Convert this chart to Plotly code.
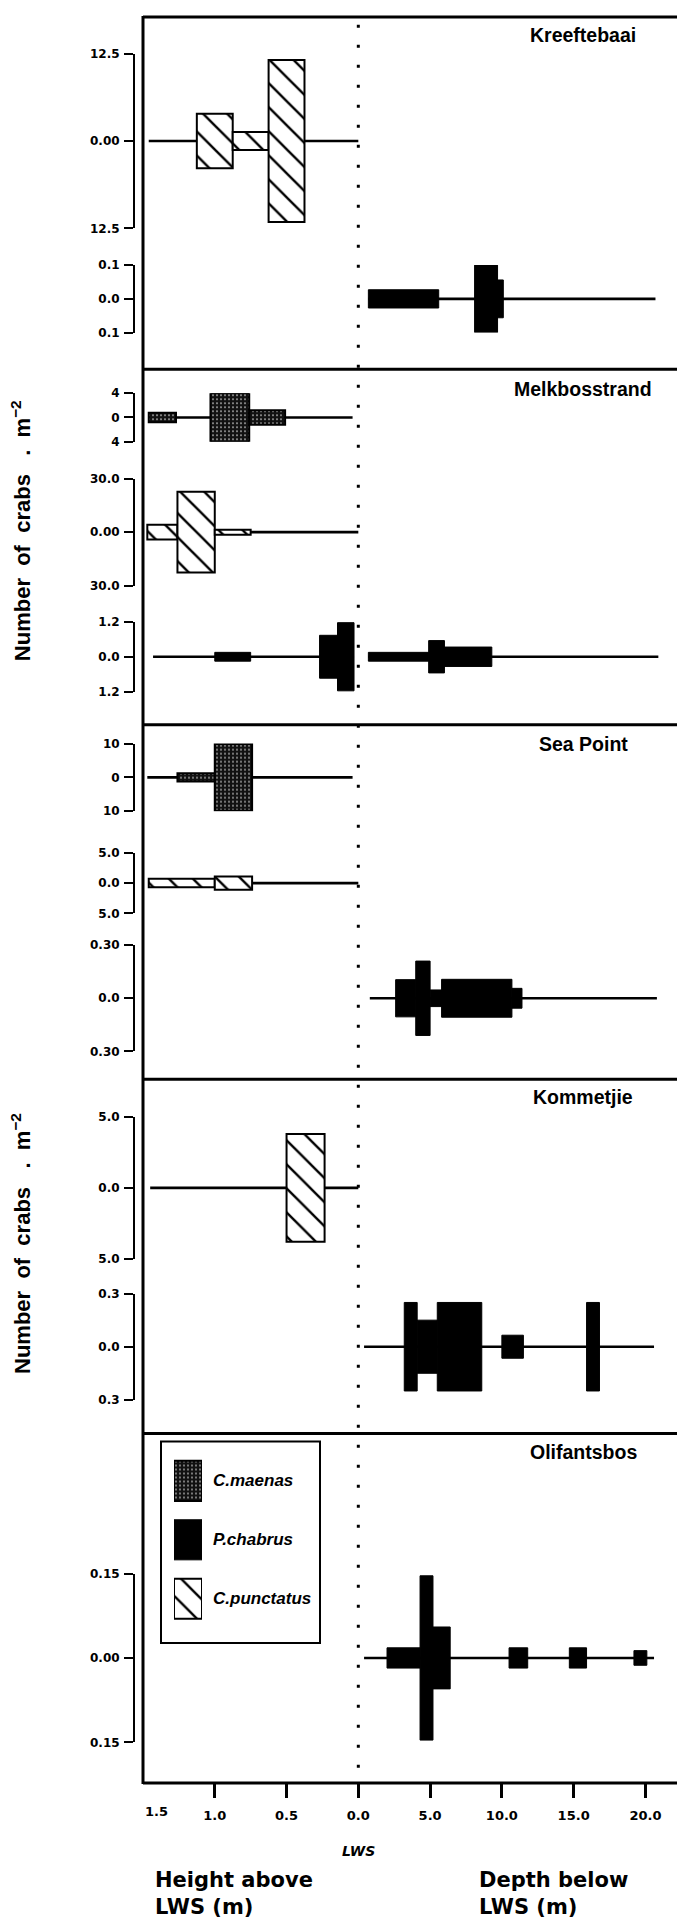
import plotly.graph_objects as go

# ---------------------------------------------------------------------------
# Crab densities (crabs per m^2) along shore transects.
# Left half: height above LWS (m); right half: depth below LWS (m).
# Each block is (from, to) in metres with the density drawn symmetrically
# about the zero line; *_extent gives the sampled stretch of each transect.
# ---------------------------------------------------------------------------

sites = ["Kreeftebaai", "Melkbosstrand", "Sea Point", "Kommetjie", "Olifantsbos"]
species = ["C.maenas", "P.chabrus", "C.punctatus"]

# Kreeftebaai
kre_punct_height = [(1.125, 0.875), (0.875, 0.625), (0.625, 0.375)]
kre_punct_density = [3.9, 1.3, 11.6]
kre_punct_extent = (1.46, 0.0)

kre_chab_depth = [(0.7, 5.6), (8.1, 9.7), (9.7, 10.1)]
kre_chab_density = [0.027, 0.1, 0.056]
kre_chab_extent = (0.7, 20.7)

# Melkbosstrand
mel_maen_height = [(1.46, 1.27), (1.03, 0.76), (0.76, 0.51)]
mel_maen_density = [0.8, 4.05, 1.2]
mel_maen_extent = (1.46, 0.04)

mel_punct_height = [(1.47, 1.26), (1.26, 1.0), (1.0, 0.75)]
mel_punct_density = [4.1, 22.6, 1.4]
mel_punct_extent = (1.47, 0.0)

mel_chab_height = [(1.0, 0.75), (0.27, 0.145), (0.145, 0.03)]
mel_chab_height_density = [0.15, 0.73, 1.16]
mel_chab_height_extent = (1.43, 0.03)
mel_chab_depth = [(0.7, 4.9), (4.9, 6.0), (6.0, 9.3)]
mel_chab_depth_density = [0.15, 0.55, 0.33]
mel_chab_depth_extent = (0.7, 20.9)

# Sea Point
sea_maen_height = [(1.26, 1.0), (1.0, 0.74)]
sea_maen_density = [1.2, 9.9]
sea_maen_extent = (1.47, 0.04)

sea_punct_height = [(1.46, 1.0), (1.0, 0.74)]
sea_punct_density = [0.7, 1.1]
sea_punct_extent = (1.46, 0.0)

sea_chab_depth = [(2.6, 4.0), (4.0, 5.0), (5.0, 5.8), (5.8, 10.7), (10.7, 11.4)]
sea_chab_density = [0.105, 0.21, 0.047, 0.107, 0.056]
sea_chab_extent = (0.8, 20.8)

# Kommetjie
kom_punct_height = [(0.5, 0.235)]
kom_punct_density = [3.8]
kom_punct_extent = (1.45, 0.0)

kom_chab_depth = [(3.2, 4.1), (4.1, 5.5), (5.5, 8.6), (10.0, 11.5), (15.9, 16.8)]
kom_chab_density = [0.25, 0.15, 0.25, 0.065, 0.25]
kom_chab_extent = (0.4, 20.6)

# Olifantsbos
oli_chab_depth = [(2.0, 4.3), (4.3, 5.2), (5.2, 6.4), (10.5, 11.8), (14.7, 15.9), (19.2, 20.1)]
oli_chab_density = [0.018, 0.146, 0.055, 0.018, 0.018, 0.013]
oli_chab_extent = (0.4, 20.6)

# Scale bar end values and their labels for each strip
strip_scale = [12.5, 0.1, 4, 30, 1.2, 10, 5, 0.3, 5, 0.3, 0.15]
strip_end_label = ["12.5", "0.1", "4", "30.0", "1.2", "10", "5.0", "0.30", "5.0", "0.3", "0.15"]
strip_zero_label = ["0.00", "0.0", "0", "0.00", "0.0", "0", "0.0", "0.0", "0.0", "0.0", "0.00"]

height_ticks = [1.5, 1.0, 0.5, 0.0]
depth_ticks = [5.0, 10.0, 15.0, 20.0]

# ---------------------------------------------------------------------------
# Geometry (page pixels)
# ---------------------------------------------------------------------------
W, H = 677, 1931
SANS = "Liberation Sans, Arial, Helvetica, sans-serif"
WIDE = "DejaVu Sans, Verdana, sans-serif"
HEIGHT_STRETCH = 10.0          # 0.5 m of height spans the same width as 5 m depth
FRAME_L = 143
AXIS_X = 134
PANEL_EDGES = [10, 365, 723, 1080, 1437, 1789]
X_MIN, X_MAX = -15.0, 22.2

# (top, bottom) of each strip's scale bar
strip_box = [(47, 223), (260, 328),
             (389, 438), (475, 583), (619, 690),
             (742, 810), (852, 913), (945, 1052),
             (1118, 1261), (1296, 1403),
             (1578, 1748)]

strip_series = [
    [("C.punctatus", "height", kre_punct_height, kre_punct_density, kre_punct_extent)],
    [("P.chabrus", "depth", kre_chab_depth, kre_chab_density, kre_chab_extent)],
    [("C.maenas", "height", mel_maen_height, mel_maen_density, mel_maen_extent)],
    [("C.punctatus", "height", mel_punct_height, mel_punct_density, mel_punct_extent)],
    [("P.chabrus", "height", mel_chab_height, mel_chab_height_density, mel_chab_height_extent),
     ("P.chabrus", "depth", mel_chab_depth, mel_chab_depth_density, mel_chab_depth_extent)],
    [("C.maenas", "height", sea_maen_height, sea_maen_density, sea_maen_extent)],
    [("C.punctatus", "height", sea_punct_height, sea_punct_density, sea_punct_extent)],
    [("P.chabrus", "depth", sea_chab_depth, sea_chab_density, sea_chab_extent)],
    [("C.punctatus", "height", kom_punct_height, kom_punct_density, kom_punct_extent)],
    [("P.chabrus", "depth", kom_chab_depth, kom_chab_density, kom_chab_extent)],
    [("P.chabrus", "depth", oli_chab_depth, oli_chab_density, oli_chab_extent)],
]

styles = {
    "P.chabrus": dict(color="black", line=dict(color="black", width=1)),
    "C.punctatus": dict(color="white", line=dict(color="black", width=2),
                        pattern=dict(shape="\\", fgcolor="black", fgopacity=1,
                                     size=17, solidity=0.14, fillmode="overlay")),
    "C.maenas": dict(color="#111111", line=dict(color="black", width=2),
                     pattern=dict(shape=".", fgcolor="white", fgopacity=0.85,
                                  size=4, solidity=0.14, fillmode="overlay")),
}


def to_u(side, m):
    return -HEIGHT_STRETCH * m if side == "height" else m


def py(px):
    return 1 - px / H


def px_x(px):
    return px / W


fig = go.Figure()
shapes = []
annotations = []
layout = {}

for k, (box, series) in enumerate(zip(strip_box, strip_series)):
    ytr = "y" if k == 0 else f"y{k + 1}"
    ykey = "yaxis" if k == 0 else f"yaxis{k + 1}"
    R = strip_scale[k]
    layout[ykey] = dict(
        domain=[py(box[1]), py(box[0])], range=[-R, R], anchor="free",
        position=px_x(AXIS_X), showline=True, linecolor="black", linewidth=2,
        ticks="outside", ticklen=9, tickwidth=2, tickcolor="black",
        tickvals=[-R, 0, R],
        ticktext=[strip_end_label[k], strip_zero_label[k], strip_end_label[k]],
        tickfont=dict(family=WIDE, size=12, color="black", weight="bold"),
        ticklabelstandoff=2, showgrid=False, zeroline=False, fixedrange=True,
    )
    for sp, side, segs, vals, extent in series:
        # zero line along the sampled stretch
        shapes.append(dict(type="line", xref="x", yref=ytr, layer="below",
                           x0=to_u(side, extent[0]), x1=to_u(side, extent[1]),
                           y0=0, y1=0, line=dict(color="black", width=2.6)))
        centers = [(to_u(side, a) + to_u(side, b)) / 2 for a, b in segs]
        widths = [abs(to_u(side, a) - to_u(side, b)) for a, b in segs]
        fig.add_trace(go.Bar(
            x=centers, y=[2 * v for v in vals], base=[-v for v in vals],
            width=widths, marker=styles[sp], xaxis="x", yaxis=ytr,
            showlegend=False, hoverinfo="skip"))

# Shared horizontal axis along the bottom of the frame
tick_u = [to_u("height", h) for h in height_ticks if h < 1.5] + [to_u("depth", d) for d in depth_ticks]
tick_txt = [f"{h:.1f}" for h in height_ticks if h < 1.5] + [f"{d:.1f}" for d in depth_ticks]
layout["xaxis"] = dict(
    domain=[px_x(FRAME_L), 1], range=[X_MIN, X_MAX], anchor="free",
    position=py(PANEL_EDGES[-1]), showline=False, showgrid=False, zeroline=False,
    ticks="outside", ticklen=14, tickwidth=2.5, tickcolor="black",
    tickvals=tick_u, ticktext=tick_txt, ticklabelstandoff=6,
    tickfont=dict(family=WIDE, size=13, color="black", weight="bold"),
    fixedrange=True,
)
annotations.append(dict(xref="x", yref="paper", x=to_u("height", height_ticks[0]),
                        y=py(1818), xanchor="left", yanchor="middle",
                        text=f"{height_ticks[0]:.1f}", showarrow=False,
                        font=dict(family=WIDE, size=13, color="black", weight="bold")))

# Legend swatches on their own small axes
layout["xaxis2"] = dict(domain=[px_x(174), px_x(202)], range=[0, 1], visible=False,
                        anchor="y12", fixedrange=True)
layout["yaxis12"] = dict(domain=[py(1633), py(1455)], range=[2.5, -0.5], visible=False,
                         anchor="x2", fixedrange=True)
for i, sp in enumerate(species):
    fig.add_trace(go.Bar(x=[0.5], y=[0.68], base=[i - 0.34], width=[1],
                         marker=styles[sp], xaxis="x2", yaxis="y12",
                         showlegend=False, hoverinfo="skip"))
    annotations.append(dict(xref="x2", yref="y12", x=1, y=i, xanchor="left",
                            yanchor="middle", xshift=9, showarrow=False,
                            text=f"<i>{sp}</i>",
                            font=dict(family=SANS, size=17, color="black", weight="bold")))
shapes.append(dict(type="rect", xref="paper", yref="paper",
                   x0=px_x(161), x1=px_x(320), y0=py(1648), y1=py(1445),
                   line=dict(color="black", width=2)))

# Frame: left edge, top, panel dividers (the right edge runs off the page)
shapes.append(dict(type="line", xref="paper", yref="paper",
                   x0=px_x(FRAME_L), x1=px_x(FRAME_L),
                   y0=py(PANEL_EDGES[0] - 1), y1=py(PANEL_EDGES[-1] + 1),
                   line=dict(color="black", width=3)))
for yp in PANEL_EDGES:
    shapes.append(dict(type="line", xref="paper", yref="paper",
                       x0=px_x(FRAME_L), x1=1.02, y0=py(yp), y1=py(yp),
                       line=dict(color="black", width=3)))

# LWS reference line
shapes.append(dict(type="line", xref="x", yref="paper", x0=0, x1=0,
                   y0=py(PANEL_EDGES[0] + 8), y1=py(PANEL_EDGES[-1] - 6),
                   line=dict(color="black", width=3, dash="3px,17px")))

# Site names
site_label_y = [28, 385, 742, 1098, 1456]
for name, yp in zip(sites, site_label_y):
    annotations.append(dict(xref="paper", yref="paper", x=px_x(583), y=py(yp),
                            xanchor="center", yanchor="middle", showarrow=False,
                            text=name,
                            font=dict(family=SANS, size=19.5, color="black", weight="bold")))

# Vertical axis titles
for yp in (528, 1246):
    annotations.append(dict(xref="paper", yref="paper", x=px_x(21), y=py(yp),
                            xanchor="center", yanchor="middle", showarrow=False,
                            textangle=-90,
                            text="Number  of  crabs   .  m<sup>−2</sup>",
                            font=dict(family=SANS, size=22, color="black", weight="bold")))

# Bottom captions
annotations.append(dict(xref="x", yref="paper", x=0, y=py(1857), xanchor="center",
                        yanchor="middle", showarrow=False, text="<i>LWS</i>",
                        font=dict(family=WIDE, size=14, color="black", weight="bold")))
annotations.append(dict(xref="paper", yref="paper", x=px_x(153), y=py(1900),
                        xanchor="left", yanchor="middle", align="left", showarrow=False,
                        text="Height above<br>LWS (m)",
                        font=dict(family=WIDE, size=21, color="black", weight="bold")))
annotations.append(dict(xref="paper", yref="paper", x=px_x(477), y=py(1900),
                        xanchor="left", yanchor="middle", align="left", showarrow=False,
                        text="Depth below<br>LWS (m)",
                        font=dict(family=WIDE, size=21, color="black", weight="bold")))

fig.update_layout(
    width=W, height=H, autosize=False,
    margin=dict(l=0, r=0, t=0, b=0),
    paper_bgcolor="white", plot_bgcolor="rgba(0,0,0,0)",
    barmode="overlay", showlegend=False,
    shapes=shapes, annotations=annotations,
    font=dict(family=SANS, color="black"),
    **layout,
)

fig.write_html("out.html")
